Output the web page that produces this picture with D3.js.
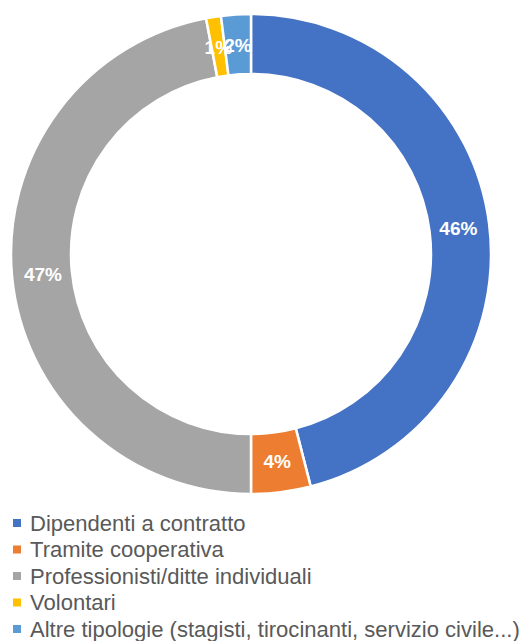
<!DOCTYPE html>
<html lang="it">
<head>
<meta charset="UTF-8">
<title>Donut</title>
<style>
  body { margin: 0; background: #fff; font-family: "Liberation Sans", Arial, sans-serif; }
  .lbl { fill: #fff; font-weight: bold; font-size: 19px; }
  .leg { fill: #595959; font-size: 17px; }
</style>
</head>
<body>
<svg id="chart" width="528" height="641"></svg>
<script src="https://cdnjs.cloudflare.com/ajax/libs/d3/7.8.5/d3.min.js"></script>
<script>
// data
const categories = [
  "Dipendenti a contratto",
  "Tramite cooperativa",
  "Professionisti/ditte individuali",
  "Volontari",
  "Altre tipologie (stagisti, tirocinanti, servizio civile...)"
];
const values = [46, 4, 47, 1, 2];
const colors = ["#4472C4", "#ED7D31", "#A5A5A5", "#FFC000", "#5B9BD5"];

const svg = d3.select('#chart');
const cx = 251, cy = 254, outerR = 240, innerR = 180;

const pie = d3.pie().sort(null).value(d => d.v);
const arcs = pie(values.map((v, i) => ({ v, name: categories[i], i })));
const arc = d3.arc().innerRadius(innerR).outerRadius(outerR);
const labelArc = d3.arc().innerRadius(209).outerRadius(209);

const g = svg.append('g').attr('transform', `translate(${cx},${cy})`);

g.selectAll('path')
  .data(arcs)
  .enter()
  .append('path')
  .attr('d', arc)
  .attr('fill', d => colors[d.data.i])
  .attr('stroke', '#fff')
  .attr('stroke-width', 2.5);

g.selectAll('.lbl')
  .data(arcs)
  .enter()
  .append('text')
  .attr('class', 'lbl')
  .attr('transform', d => `translate(${labelArc.centroid(d)})`)
  .attr('text-anchor', 'middle')
  .attr('dy', '0.36em')
  .text(d => d.data.v + '%');

// legend
const leg = svg.append('g');
const rowY = d3.scaleLinear().domain([0, 4]).range([523, 629]);
categories.forEach((c, i) => {
  leg.append('rect')
    .attr('x', 13).attr('y', rowY(i) - 4)
    .attr('width', 8).attr('height', 8)
    .attr('fill', colors[i]);
  leg.append('text')
    .attr('class', 'leg')
    .attr('x', 30).attr('y', rowY(i))
    .attr('dy', '0.35em')
    .text(c);
});

// fit the longest legend line to the reference width
const longest = leg.selectAll('text').nodes()
  .reduce((m, n) => Math.max(m, n.getComputedTextLength()), 0);
const fs = 17 * 490 / longest;
leg.selectAll('text').style('font-size', fs + 'px');
</script>
</body>
</html>
